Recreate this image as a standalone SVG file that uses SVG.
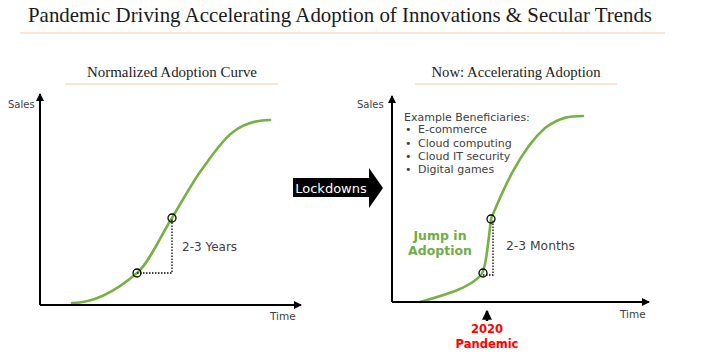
<svg xmlns="http://www.w3.org/2000/svg" width="724" height="359" viewBox="0 0 724 359">
<defs>
<style>
.serif{font-family:"Liberation Serif","Times New Roman",serif;fill:#1a1a1a}
.sans{font-family:"DejaVu Sans","Liberation Sans",sans-serif;fill:#404040}
.axis{stroke:#000;stroke-width:2;fill:none}
.curve{stroke:#77b143;stroke-width:2.6;fill:none;stroke-linecap:round}
.pt{stroke:#000;stroke-width:1.3;fill:none}
.dot{stroke:#000;stroke-width:1.3;fill:none;stroke-dasharray:1.5 1.5}
.rule{stroke:#f9dfc4;stroke-width:1.6}
.green{font-family:"DejaVu Sans","Liberation Sans",sans-serif;font-weight:bold;fill:#70ad47}
.red{font-family:"DejaVu Sans","Liberation Sans",sans-serif;font-weight:bold;fill:#ff0000}
</style>
<marker id="ah" viewBox="0 0 8 8" refX="7" refY="4" markerWidth="4" markerHeight="4" orient="auto" markerUnits="strokeWidth">
<path d="M0,0 L8,4 L0,8 Z" fill="#000"/>
</marker>
</defs>
<rect width="724" height="359" fill="#fff"/>

<g id="title">
<text class="serif" x="28" y="22" font-size="21" textLength="624" lengthAdjust="spacingAndGlyphs">Pandemic Driving Accelerating Adoption of Innovations &amp; Secular Trends</text>
<line class="rule" x1="20" y1="33" x2="665" y2="33"/>
</g>

<g id="left-chart">
<text class="serif" x="172" y="77" font-size="15" text-anchor="middle" textLength="170" lengthAdjust="spacingAndGlyphs">Normalized Adoption Curve</text>
<line class="rule" x1="65" y1="84" x2="278" y2="84"/>
<text class="sans" x="8" y="108" font-size="10">Sales</text>
<text class="sans" x="270" y="320" font-size="10.5">Time</text>
<path class="curve" d="M72,303 C94,303 115,292 137,273 C149,263 160,237 172,218 C181,203 191,185 200,172 C211,157 222,140 233,132 C245,123 258,120 270,120"/>
<path class="dot" d="M137,273 H172 V218"/>
<circle class="pt" cx="137" cy="273" r="4"/>
<circle class="pt" cx="172" cy="218" r="4"/>
<text class="sans" x="182" y="251" font-size="12">2-3 Years</text>
</g>

<g id="lockdowns">
<polygon points="293,178 369,178 369,168 383,188 369,208 369,197 293,197" fill="#000"/>
<text class="sans" x="331" y="192.5" font-size="13" text-anchor="middle" style="fill:#fff">Lockdowns</text>
</g>

<g id="right-chart">
<text class="serif" x="516" y="77" font-size="15" text-anchor="middle" textLength="169" lengthAdjust="spacingAndGlyphs">Now: Accelerating Adoption</text>
<line class="rule" x1="415" y1="84" x2="617" y2="84"/>
<text class="sans" x="357" y="108" font-size="10">Sales</text>
<text class="sans" x="620" y="318" font-size="10.5">Time</text>
<text class="sans" x="404" y="121" font-size="11">Example Beneficiaries:</text>
<g class="sans" font-size="11">
<text x="405" y="133">•</text><text x="418" y="133">E-commerce</text>
<text x="405" y="147">•</text><text x="418" y="147">Cloud computing</text>
<text x="405" y="160">•</text><text x="418" y="160">Cloud IT security</text>
<text x="405" y="173">•</text><text x="418" y="173">Digital games</text>
</g>
<path class="curve" d="M420,302 C445,295 470,288 481,275 C485,270 487,255 491,219 C502,192 520,150 545,128 C560,117 570,116 583,116"/>
<path class="dot" d="M483,275 H493 V219"/>
<circle class="pt" cx="483" cy="273" r="4"/>
<circle class="pt" cx="491" cy="219" r="4"/>
<text class="green" x="440" y="240" font-size="12.5" text-anchor="middle">Jump in</text>
<text class="green" x="440" y="255" font-size="12.5" text-anchor="middle">Adoption</text>
<text class="sans" x="506" y="250" font-size="12.3">2-3 Months</text>
</g>

<g id="pandemic">
<line x1="487" y1="321" x2="487" y2="311" stroke="#000" stroke-width="2.5" marker-end="url(#ah)"/>
<text class="red" x="487" y="333" font-size="11.5" text-anchor="middle">2020</text>
<text class="red" x="487" y="348" font-size="11.5" text-anchor="middle">Pandemic</text>
</g>

<g id="connectors">
<line class="axis" x1="40" y1="305" x2="40" y2="94" marker-end="url(#ah)"/>
<line class="axis" x1="40" y1="305" x2="301" y2="305" marker-end="url(#ah)"/>
<line class="axis" x1="392" y1="302" x2="392" y2="96" marker-end="url(#ah)"/>
<line class="axis" x1="392" y1="302" x2="649" y2="302" marker-end="url(#ah)"/>
</g>
</svg>
